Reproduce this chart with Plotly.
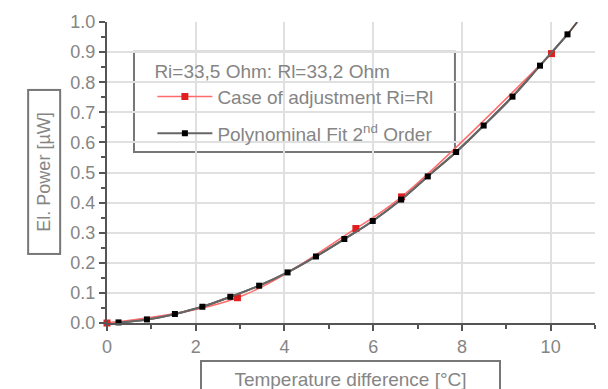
import plotly.graph_objects as go

# Measured data (Case of adjustment Ri=Rl)
adj_x = [0.0, 2.94, 5.61, 6.64, 10.02]
adj_y = [0.0, 0.084, 0.314, 0.419, 0.895]

# Polynomial fit, 2nd order (marker points)
fit_x = [0.26, 0.90, 1.53, 2.15, 2.78, 3.43, 4.07, 4.71, 5.35, 5.99, 6.63, 7.23, 7.87, 8.49, 9.14, 9.76, 10.38]
fit_y = [0.002, 0.012, 0.030, 0.054, 0.087, 0.124, 0.168, 0.221, 0.279, 0.339, 0.410, 0.487, 0.568, 0.656, 0.752, 0.855, 0.959]

# fit curve end points (curve runs from origin to top of plot)
curve_start = (0.0, 0.0)
curve_end = (10.6, 1.0)

x_ticks = [0, 2, 4, 6, 8, 10]
y_ticks = [0.0, 0.1, 0.2, 0.3, 0.4, 0.5, 0.6, 0.7, 0.8, 0.9, 1.0]

legend_title = "Ri=33,5 Ohm: Rl=33,2 Ohm"
name_adj = "Case of adjustment Ri=Rl"
name_fit = "Polynominal Fit 2<sup>nd</sup> Order"
x_title = "Temperature difference [°C]"
y_title = "El. Power [µW]"

FONT = "Liberation Sans, Arial, sans-serif"
TXT = "#858585"
AX = "#555555"
GRID = "#e0e0e0"
FS = 18
FL = 19

fig = go.Figure()

curve_x = [curve_start[0]] + fit_x + [curve_end[0]]
curve_y = [curve_start[1]] + fit_y + [curve_end[1]]
fig.add_trace(go.Scatter(x=curve_x, y=curve_y, mode="lines",
                         line=dict(color="#5a4a4a", width=2, shape="spline"),
                         showlegend=False, hoverinfo="skip", cliponaxis=True))
fig.add_trace(go.Scatter(x=adj_x, y=adj_y, mode="lines+markers", name=name_adj,
                         line=dict(color="#ff6b6b", width=1.5, shape="spline"),
                         marker=dict(symbol="square", size=7, color="#e02020"),
                         legendgroup="a", cliponaxis=False))
fig.add_trace(go.Scatter(x=fit_x, y=fit_y, mode="lines+markers", name=name_fit,
                         line=dict(color="#666666", width=2, shape="spline"),
                         marker=dict(symbol="square", size=6, color="#000000"),
                         legendgroup="b", cliponaxis=False))

fig.update_layout(
    width=608, height=389,
    margin=dict(l=107, r=13, t=20, b=66),
    paper_bgcolor="white", plot_bgcolor="white",
    font=dict(family=FONT, size=FS, color=TXT),
    legend=dict(
        x=0.093, y=0.897, xanchor="left", yanchor="top",
        bgcolor="rgba(0,0,0,0)", borderwidth=0,
        title=dict(text=legend_title, font=dict(size=FL, color=TXT)),
        font=dict(size=FL, color=TXT),
        tracegroupgap=9, itemwidth=55,
    ),
    xaxis=dict(range=[0, 11], tickvals=x_ticks, ticktext=[str(v) for v in x_ticks],
               showgrid=True, gridcolor=GRID, gridwidth=2,
               showline=True, linecolor=AX, linewidth=2,
               ticks="outside", ticklen=6, tickwidth=2, tickcolor=AX,
               minor=dict(dtick=1, ticks="outside", ticklen=4, tickwidth=2, tickcolor=AX, showgrid=False),
               zeroline=False, tickfont=dict(size=FS, color=TXT)),
    yaxis=dict(range=[0, 1.0], tickvals=y_ticks, ticktext=[f"{v:.1f}" for v in y_ticks],
               showgrid=True, gridcolor=GRID, gridwidth=2,
               showline=True, linecolor=AX, linewidth=2,
               ticks="outside", ticklen=6, tickwidth=2, tickcolor=AX,
               minor=dict(dtick=0.05, ticks="outside", ticklen=4, tickwidth=2, tickcolor=AX, showgrid=False),
               zeroline=False, tickfont=dict(size=FS, color=TXT)),
)

# legend frame
fig.add_shape(type="rect", xref="paper", yref="paper",
              x0=0.0553, x1=0.713, y0=0.568, y1=0.901,
              line=dict(color="#777777", width=2), fillcolor="white", layer="between")

fig.add_annotation(text=x_title, xref="paper", yref="paper", x=0.499, y=-0.122,
                   xanchor="center", yanchor="top", showarrow=False,
                   width=295, height=32, bordercolor="#777777", borderwidth=2,
                   bgcolor="white", font=dict(size=FL, color=TXT))
fig.add_annotation(text=y_title, xref="paper", yref="paper", x=-0.129, y=0.502,
                   xanchor="center", yanchor="middle", showarrow=False, textangle=-90,
                   width=160, height=28, bordercolor="#777777", borderwidth=2,
                   bgcolor="white", font=dict(size=FS, color=TXT))

fig.write_html("out.html", config={"displayModeBar": False},
               post_script="document.body.style.margin='0';")
